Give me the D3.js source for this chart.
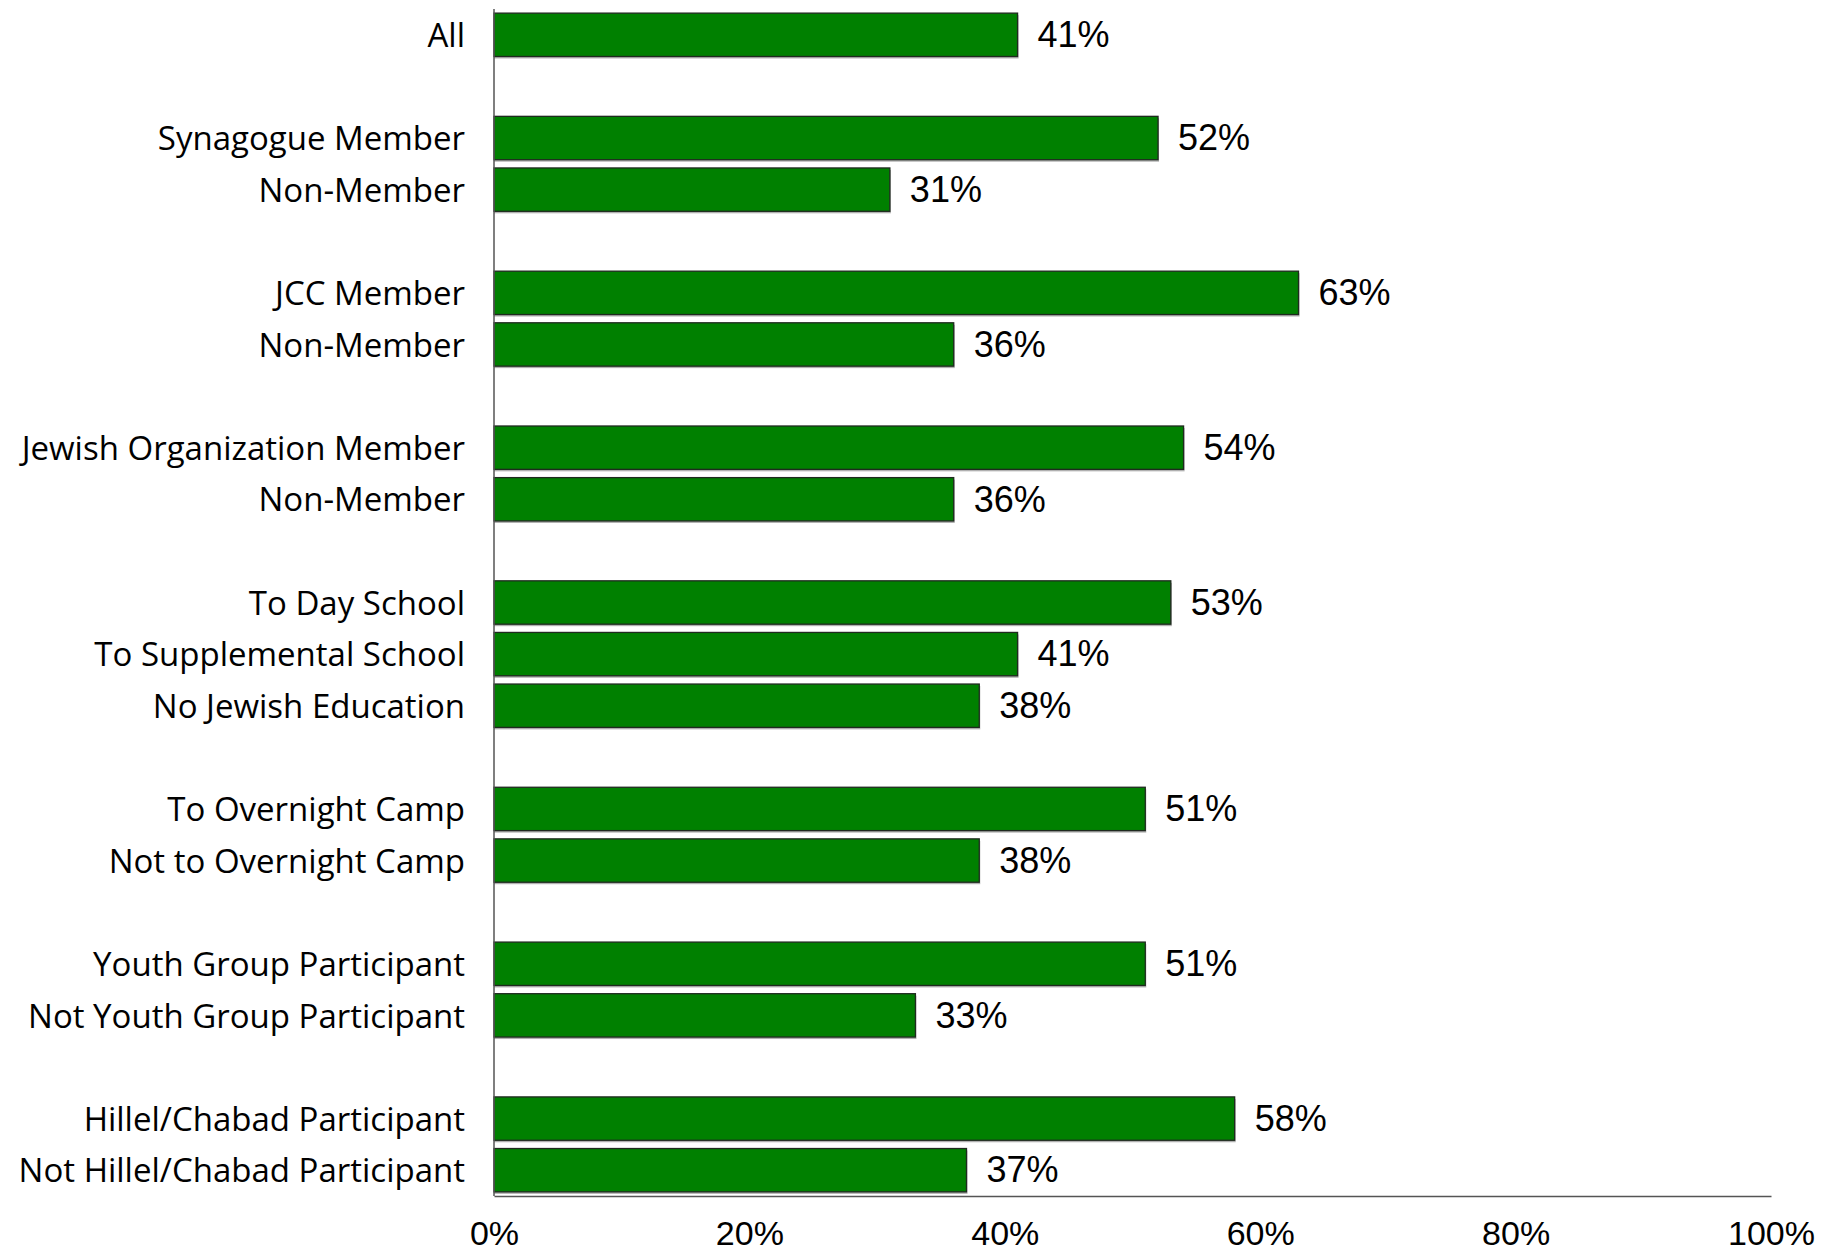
<!DOCTYPE html>
<html><head><meta charset="utf-8">
<script src="https://cdn.jsdelivr.net/npm/d3@7"></script>
<style>body{margin:0;background:#fff}</style>
</head><body>
<svg id="c" width="1838" height="1255"></svg>
<script>
const categories = ["All","Synagogue Member","Non-Member","JCC Member","Non-Member","Jewish Organization Member","Non-Member","To Day School","To Supplemental School","No Jewish Education","To Overnight Camp","Not to Overnight Camp","Youth Group Participant","Not Youth Group Participant","Hillel/Chabad Participant","Not Hillel/Chabad Participant"];
const groups = [0,1,1,2,2,3,3,4,4,4,5,5,6,6,7,7];
const values = [41,52,31,63,36,54,36,53,41,38,51,38,51,33,58,37];
const tickValues = [0,20,40,60,80,100];

(function(){
const svg = d3.select("#c");
const mLeft = 494, mRight = 1771, mTop = 9, mBottom = 1196;
const slots = categories.map((c,i)=>i+groups[i]);
const nSlots = categories.length + groups[groups.length-1];
const x = d3.scaleLinear().domain([0,100]).range([mLeft,mRight]);
const y = d3.scaleBand().domain(d3.range(nSlots)).range([mTop,mBottom]).paddingInner(0.16).paddingOuter(0.08);

const data = categories.map((c,i)=>({c, v: values[i], s: slots[i]}));

svg.append("g").selectAll("rect").data(data).join("rect")
  .attr("x", x(0)).attr("y", d=>y(d.s)+2)
  .attr("width", d=>x(d.v)-x(0)+1).attr("height", y.bandwidth())
  .attr("fill","#b0b0b0");
svg.append("g").selectAll("rect").data(data).join("rect")
  .attr("x", x(0)).attr("y", d=>y(d.s))
  .attr("width", d=>x(d.v)-x(0)).attr("height", y.bandwidth())
  .attr("fill","#008000").attr("stroke","#1f2a1f").attr("stroke-width",1.3);

svg.append("g").selectAll("text").data(data).join("text")
  .attr("x", d=>x(d.v)+20).attr("y", d=>y(d.s)+y.bandwidth()/2)
  .attr("dy","0.34em").attr("font-family","'Liberation Sans', Arial, sans-serif")
  .attr("font-size",36).attr("fill","#000").text(d=>d.v+"%");

svg.append("g").selectAll("text").data(data).join("text")
  .attr("x", mLeft-29).attr("y", d=>y(d.s)+y.bandwidth()/2)
  .attr("dy","0.37em").attr("text-anchor","end")
  .attr("font-family","'Open Sans', sans-serif").attr("font-size",33).attr("fill","#000")
  .text(d=>d.c);

svg.append("line").attr("x1",mLeft).attr("x2",mLeft).attr("y1",mTop).attr("y2",mBottom).attr("stroke","#555").attr("stroke-width",1.5);
const xAxis = d3.axisBottom(x).tickValues(tickValues).tickSize(0).tickPadding(25).tickFormat(d=>d+"%");
const gx = svg.append("g").attr("transform",`translate(0,${mBottom})`).call(xAxis);
gx.select(".domain").attr("stroke","#555").attr("stroke-width",1.5);
gx.selectAll("text").attr("font-family","'Liberation Sans', Arial, sans-serif").attr("font-size",34).attr("fill","#000");
})();
</script>
</body></html>
